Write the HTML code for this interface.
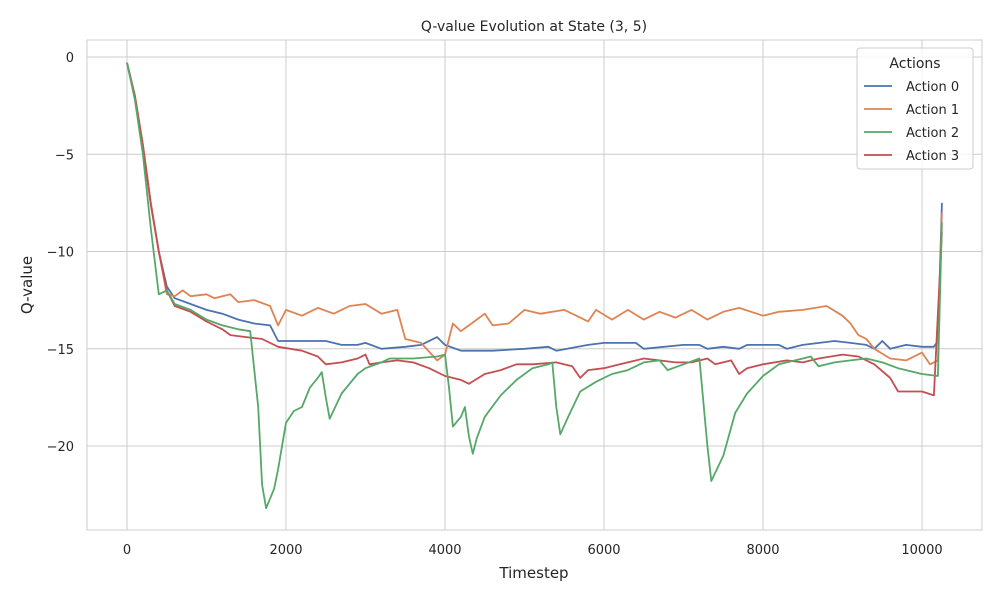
<!DOCTYPE html>
<html><head><meta charset="utf-8"><style>
body{margin:0;background:#fff;font-family:"DejaVu Sans","Liberation Sans",sans-serif;}
svg text{font-family:"DejaVu Sans","Liberation Sans",sans-serif;fill:#262626;}
</style></head><body>
<svg id="chart" width="1000" height="600" xmlns="http://www.w3.org/2000/svg">
<rect width="1000" height="600" fill="#fff"/>
<g id="grid"></g>
<rect x="87" y="40" width="895" height="490" fill="none" stroke="#ccc" stroke-width="1"/>
<g id="series"></g>
<g id="ticks"></g>
<text x="534" y="31" text-anchor="middle" font-size="14">Q-value Evolution at State (3, 5)</text>
<text x="534" y="578" text-anchor="middle" font-size="15">Timestep</text>
<text x="32" y="285" text-anchor="middle" font-size="15" transform="rotate(-90 32 285)">Q-value</text>
<g id="legend"></g>
</svg>
<script>
const xTicks=[0,2000,4000,6000,8000,10000];
const yTicks=[0,-5,-10,-15,-20];
const seriesNames=["Action 0","Action 1","Action 2","Action 3"];
const seriesColors=["#4c72b0","#dd8452","#55a868","#c44e52"];
const a0x=[0,100,200,300,400,500,600,800,1000,1200,1400,1600,1800,1900,2200,2500,2700,2900,3000,3200,3500,3700,3900,4000,4200,4600,5000,5300,5400,5800,6000,6400,6500,7000,7200,7300,7500,7700,7800,8200,8300,8500,8900,9100,9300,9400,9500,9600,9800,10000,10150,10200,10250];
const a0y=[-0.3,-2,-4.5,-7.5,-10,-11.8,-12.4,-12.7,-13,-13.2,-13.5,-13.7,-13.8,-14.6,-14.6,-14.6,-14.8,-14.8,-14.7,-15,-14.9,-14.8,-14.4,-14.8,-15.1,-15.1,-15,-14.9,-15.1,-14.8,-14.7,-14.7,-15,-14.8,-14.8,-15,-14.9,-15,-14.8,-14.8,-15,-14.8,-14.6,-14.7,-14.8,-15,-14.6,-15,-14.8,-14.9,-14.9,-14.6,-7.5];
const a1x=[0,100,200,300,400,500,600,700,800,1000,1100,1300,1400,1600,1800,1900,2000,2200,2400,2600,2800,3000,3200,3400,3500,3700,3900,4000,4100,4200,4300,4500,4600,4800,5000,5200,5500,5700,5800,5900,6100,6300,6500,6700,6900,7100,7300,7500,7700,8000,8200,8500,8800,9000,9100,9200,9300,9400,9600,9800,10000,10100,10200,10250];
const a1y=[-0.3,-2,-4.5,-7.5,-10,-12.2,-12.3,-12,-12.3,-12.2,-12.4,-12.2,-12.6,-12.5,-12.8,-13.8,-13,-13.3,-12.9,-13.2,-12.8,-12.7,-13.2,-13,-14.5,-14.7,-15.6,-15.3,-13.7,-14.1,-13.8,-13.2,-13.8,-13.7,-13,-13.2,-13,-13.4,-13.6,-13,-13.5,-13,-13.5,-13.1,-13.4,-13,-13.5,-13.1,-12.9,-13.3,-13.1,-13,-12.8,-13.3,-13.7,-14.3,-14.5,-15,-15.5,-15.6,-15.2,-15.8,-15.6,-8];
const a2x=[0,100,200,300,400,500,600,800,1000,1200,1400,1550,1650,1700,1750,1850,1900,2000,2100,2200,2300,2400,2450,2500,2550,2700,2900,3000,3200,3300,3600,3900,4000,4050,4100,4200,4250,4300,4350,4400,4500,4700,4900,5100,5300,5350,5400,5450,5550,5700,5900,6100,6300,6500,6700,6800,7000,7200,7300,7350,7500,7650,7800,8000,8200,8500,8600,8700,8900,9100,9300,9500,9700,10000,10200,10250];
const a2y=[-0.3,-2.2,-5,-8.8,-12.2,-12,-12.7,-13,-13.5,-13.8,-14,-14.1,-18,-22,-23.2,-22.2,-21.2,-18.8,-18.2,-18,-17,-16.5,-16.2,-17.5,-18.6,-17.3,-16.3,-16,-15.7,-15.5,-15.5,-15.4,-15.3,-17,-19,-18.5,-18,-19.5,-20.4,-19.6,-18.5,-17.4,-16.6,-16,-15.8,-15.7,-18,-19.4,-18.5,-17.2,-16.7,-16.3,-16.1,-15.7,-15.6,-16.1,-15.8,-15.5,-20,-21.8,-20.5,-18.3,-17.3,-16.4,-15.8,-15.5,-15.4,-15.9,-15.7,-15.6,-15.5,-15.7,-16,-16.3,-16.4,-8.5];
const a3x=[0,100,200,300,400,500,600,800,1000,1200,1300,1500,1700,1900,2200,2400,2500,2700,2900,3000,3050,3200,3400,3600,3800,4000,4200,4300,4500,4700,4900,5100,5400,5600,5700,5800,6000,6200,6500,6700,6900,7100,7300,7400,7600,7700,7800,8000,8300,8500,8700,9000,9200,9400,9600,9700,10000,10150,10250];
const a3y=[-0.3,-2,-4.6,-7.6,-10,-12,-12.8,-13.1,-13.6,-14,-14.3,-14.4,-14.5,-14.9,-15.1,-15.4,-15.8,-15.7,-15.5,-15.3,-15.8,-15.7,-15.6,-15.7,-16,-16.4,-16.6,-16.8,-16.3,-16.1,-15.8,-15.8,-15.7,-15.9,-16.5,-16.1,-16,-15.8,-15.5,-15.6,-15.7,-15.7,-15.5,-15.8,-15.6,-16.3,-16,-15.8,-15.6,-15.7,-15.5,-15.3,-15.4,-15.8,-16.5,-17.2,-17.2,-17.4,-9];
const NS="http://www.w3.org/2000/svg";
const sx=v=>127+v*0.0795;
const sy=v=>57-v*19.45;
function mk(t,a,p){const e=document.createElementNS(NS,t);for(const k in a)e.setAttribute(k,a[k]);p.appendChild(e);return e;}
const grid=document.getElementById('grid'),ticks=document.getElementById('ticks');
xTicks.forEach(v=>{
 const l=mk('line',{x1:sx(v),x2:sx(v),y1:40,y2:530,stroke:'#ccc','stroke-width':1},grid);
 
 
 const t=mk('text',{x:sx(v),y:554,'text-anchor':'middle','font-size':13},ticks);t.textContent=v;
 
 
});
yTicks.forEach(v=>{
 const l=mk('line',{x1:87,x2:982,y1:sy(v),y2:sy(v),stroke:'#ccc','stroke-width':1},grid);
 
 
 const t=mk('text',{x:74,y:sy(v)+5,'text-anchor':'end','font-size':13},ticks);t.textContent=v<0?'\u2212'+(-v):v;
 
 
});
const xs=[a0x,a1x,a2x,a3x],ys=[a0y,a1y,a2y,a3y];
const sg=document.getElementById('series');
[0,1,3,2].forEach(i=>{
 const d=xs[i].map((x,j)=>(j?'L':'M')+sx(x).toFixed(1)+','+sy(ys[i][j]).toFixed(1)).join('');
 const p=mk('path',{d:d,fill:'none',stroke:seriesColors[i],'stroke-width':1.8,'stroke-linejoin':'round'},sg);
 
 
});
const lg=document.getElementById('legend');
mk('rect',{x:857,y:48,width:116,height:121,rx:3,fill:'#fff','fill-opacity':0.8,stroke:'#ccc'},lg);
const lt=mk('text',{x:915,y:68,'text-anchor':'middle','font-size':14},lg);lt.textContent='Actions';
seriesNames.forEach((n,i)=>{
 const y=86+i*23;
 const l=mk('line',{x1:864,x2:892,y1:y,y2:y,stroke:seriesColors[i],'stroke-width':1.8},lg);
 
 
 const t=mk('text',{x:906,y:y+5,'font-size':13},lg);t.textContent=n;
 
 
});
</script>
</body></html>
